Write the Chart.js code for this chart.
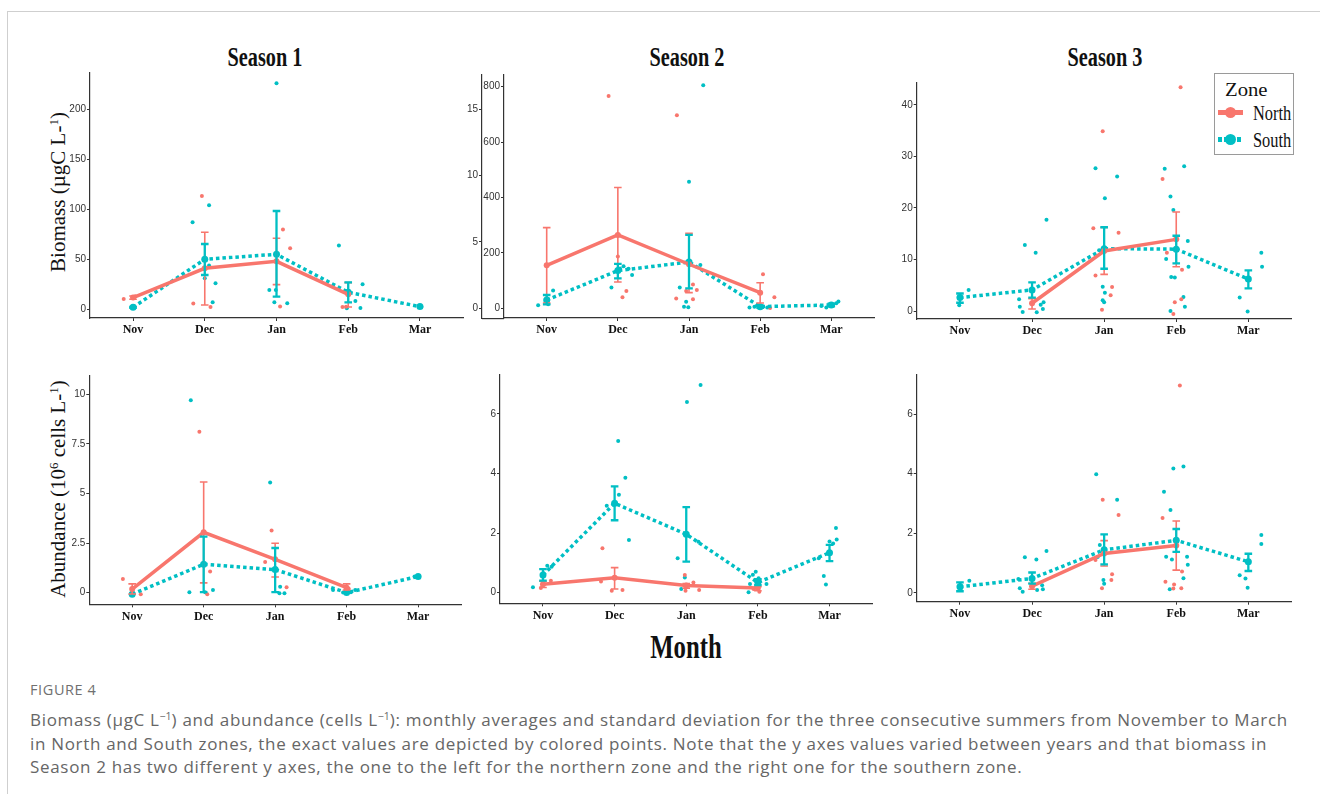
<!DOCTYPE html>
<html><head><meta charset="utf-8">
<script src="https://cdn.jsdelivr.net/npm/chart.js@4.4.1/dist/chart.umd.min.js"></script>
<style>
html,body{margin:0;padding:0;background:#fff;}
#page{position:relative;width:1320px;height:794px;overflow:hidden;background:#fff;}
canvas{position:absolute;}
.t{position:absolute;white-space:nowrap;line-height:1;color:#111;font-family:'Liberation Serif','Times New Roman',serif;}
.title{font-weight:bold;font-size:27px;transform:translateX(-50%) scaleX(0.75);}
.ytitle{font-size:21px;transform:translate(-50%,-50%) rotate(-90deg);}
.ytitle sup{font-size:13px;vertical-align:7px;line-height:0;}
#frameTop{position:absolute;left:7px;top:11px;width:1313px;height:1px;background:#cfcfcf;}
#frameLeft{position:absolute;left:7px;top:11px;width:1px;height:783px;background:#cfcfcf;}
#legend{position:absolute;left:1214px;top:73px;width:78px;height:80px;border:1.5px solid #9a9a9a;background:#fff;}
.cap{position:absolute;font-family:'Open Sans','Noto Sans',sans-serif;color:#666;white-space:nowrap;}
.cap sup{font-size:10.5px;vertical-align:6px;line-height:0;letter-spacing:0;}
</style></head>
<body><div id="page">
<div id="frameTop"></div><div id="frameLeft"></div>
<div class="t title" style="left:265px;top:44px;">Season 1</div>
<div class="t title" style="left:687px;top:44px;">Season 2</div>
<div class="t title" style="left:1105px;top:44px;">Season 3</div>
<div class="t ytitle" style="left:58px;top:192px;">Biomass (µgC L-<sup>1</sup>)</div>
<div class="t ytitle" style="left:58px;top:489px;">Abundance (10<sup>6</sup> cells L-<sup>1</sup>)</div>
<div class="t title" style="left:686px;top:631px;font-size:33px;">Month</div>
<div class="cap" style="left:30px;top:682px;font-size:14.5px;line-height:16px;letter-spacing:0.6px;color:#707070;">FIGURE 4</div>
<div class="cap" style="left:30px;top:708px;font-size:17px;line-height:23.7px;letter-spacing:0.68px;">Biomass (µgC L<sup>−1</sup>) and abundance (cells L<sup>−1</sup>): monthly averages and standard deviation for the three consecutive summers from November to March<br>in North and South zones, the exact values are depicted by colored points. Note that the y axes values varied between years and that biomass in<br>Season 2 has two different y axes, the one to the left for the northern zone and the right one for the southern zone.</div>
<div id="legend">
  <div class="t" style="left:10px;top:7px;font-size:18px;transform-origin:left;transform:scaleX(1.15);">Zone</div>
  <div style="position:absolute;left:3px;top:36px;width:25px;height:5px;background:#F8766D;"></div>
  <div style="position:absolute;left:10px;top:33px;width:11px;height:11px;border-radius:50%;background:#F8766D;"></div>
  <div class="t" style="left:38px;top:29px;font-size:21px;transform-origin:left;transform:scaleX(0.78);">North</div>
  <div style="position:absolute;left:3px;top:63px;width:25px;height:4.5px;background:repeating-linear-gradient(90deg,#00BFC4 0 4px,transparent 4px 6.5px);"></div>
  <div style="position:absolute;left:10px;top:60px;width:11px;height:11px;border-radius:50%;background:#00BFC4;"></div>
  <div class="t" style="left:38px;top:56px;font-size:21px;transform-origin:left;transform:scaleX(0.78);">South</div>
</div>
</div>
<script>
// ---------- DATA ----------
const months = ['Nov', 'Dec', 'Jan', 'Feb', 'Mar'];

// Season 1 biomass (µgC/L)
const s1BioTicks = [0, 50, 100, 150, 200];
const s1BioNorthMean = [11.7, 41, 48, 15, null];
const s1BioNorthLo = [10, 4.3, 24.7, 2.3, null];
const s1BioNorthHi = [13.3, 77, 71, 26.7, null];
const s1BioNorthRaw = [[0,-0.13,10.3],[0,0.03,13],[1,-0.04,113.3],[1,-0.16,5.7],[1,0.08,2.3],[2,0.09,79.7],[2,0.19,61],[2,0.05,2.7],[3,-0.08,2.3],[3,-0.03,2.6]];
const s1BioSouthMean = [2, 50, 55, 17, 2.7];
const s1BioSouthLo = [1.5, 34.3, 12.7, 7, null];
const s1BioSouthHi = [2.5, 65.3, 98.3, 27, null];
const s1BioSouthRaw = [[0,-0.02,2],[0,0.01,1.5],[1,-0.17,87],[1,0.06,104],[1,0.15,26],[1,0.11,7],[1,0.06,43.7],[1,0,31],[2,0,226],[2,-0.1,19.3],[2,-0.01,19.3],[2,-0.03,7],[2,0.15,6],[3,-0.13,63.7],[3,0.2,25],[3,0.1,8.3],[3,0.17,1.3],[3,-0.02,1],[4,0,2.7],[4,0.02,2.2]];

// Season 2 biomass: north on left axis, south on right axis
const s2BioNorthTicks = [0, 5, 10, 15];
const s2BioSouthTicks = [0, 200, 400, 600, 800];
const s2BioNorthMean = [3.24, 5.53, 3.32, 1.18, null];
const s2BioNorthLo = [0.4, 1.98, 1.18, 0.4, null];
const s2BioNorthHi = [6.08, 9.1, 5.65, 1.93, null];
const s2BioNorthRaw = [[0,0.01,0.45],[1,-0.13,16.0],[1,0.065,0.83],[1,0.12,1.3],[1,0,3.9],[2,-0.17,14.55],[2,-0.18,0.73],[2,0.056,0.68],[2,0.11,1.38],[2,0.056,1.8],[2,-0.04,1.3],[3,0.04,2.56],[3,0.2,0.83],[3,0.14,0.03]];
const s2BioSouthMean = [30, 136, 167, 6, 12];
const s2BioSouthLo = [14.4, 108, 72, 2, 7];
const s2BioSouthHi = [48, 160, 265, 10, 17];
const s2BioSouthRaw = [[0,-0.12,11],[0,0.09,64],[0,0.02,15],[1,-0.09,75],[1,0.2,120],[1,0.15,143],[1,0.03,144],[1,0.08,152],[2,0.2,805],[2,0,457],[2,0.16,156],[2,-0.13,75],[2,-0.04,24],[2,-0.07,6],[2,-0.01,4],[3,-0.15,3],[3,-0.08,6],[3,-0.04,10],[3,0.03,6],[3,0.1,3],[3,0.12,4],[4,-0.14,8],[4,-0.07,3],[4,-0.02,14],[4,0.02,12],[4,0.07,18],[4,0.1,25]];

// Season 3 biomass
const s3BioTicks = [0, 10, 20, 30, 40];
const s3BioNorthMean = [null, 1.5, 11.65, 13.9, null];
const s3BioNorthLo = [null, 0.4, 7.1, 8.6, null];
const s3BioNorthHi = [null, 2.4, 16.2, 19.2, null];
const s3BioNorthRaw = [[1,0,1.5],[2,-0.02,34.9],[2,-0.15,16.05],[2,0.2,15.2],[2,-0.12,6.9],[2,0.11,4.66],[2,0.09,3.04],[2,-0.03,0.26],[3,0.06,43.4],[3,-0.19,25.6],[3,-0.13,11.3],[3,0.08,8.0],[3,-0.02,1.7],[3,0.07,2.3],[3,-0.04,-0.6]];
const s3BioSouthMean = [2.6, 4.1, 12.1, 12.0, 6.2];
const s3BioSouthLo = [1.6, 2.6, 8.2, 9.25, 4.4];
const s3BioSouthHi = [3.4, 5.57, 16.25, 14.6, 7.9];
const s3BioSouthRaw = [[0,-0.01,1.1],[0,0.12,4.1],[0,0,2.6],[1,-0.1,12.8],[1,0.05,11.3],[1,0.2,17.7],[1,-0.18,2.3],[1,-0.17,0.84],[1,-0.13,-0.2],[1,0.065,-0.26],[1,0.12,1.2],[1,0.16,1.7],[1,0.15,0.4],[2,-0.12,27.7],[2,0.18,26.1],[2,0.01,21.9],[2,-0.07,11.8],[2,-0.02,4.7],[2,0.01,3.56],[2,-0.02,2.1],[2,0,1.7],[3,-0.16,27.6],[3,0.11,28.1],[3,-0.08,22.2],[3,-0.04,19.6],[3,-0.14,10.1],[3,0.16,13.6],[3,0.17,8.6],[3,-0.07,6.6],[3,-0.02,6.5],[3,0.1,2.7],[3,0.12,0.84],[3,-0.08,0],[4,0.18,11.3],[4,0.19,8.6],[4,-0.12,2.6],[4,-0.01,-0.1]];

// Season 1 abundance (10^6 cells/L)
const s1AbuTicks = [0, 2.5, 5, 7.5, 10];
const s1AbuNorthMean = [0.18, 3.04, 1.68, 0.25, null];
const s1AbuNorthLo = [-0.07, 0.49, 0.79, 0.13, null];
const s1AbuNorthHi = [0.44, 5.58, 2.49, 0.44, null];
const s1AbuNorthRaw = [[0,-0.13,0.69],[0,0.12,-0.08],[1,-0.06,8.12],[1,0.09,1.06],[1,0.05,-0.08],[2,-0.05,3.14],[2,-0.14,1.55],[2,0.16,0.27],[3,-0.02,0.3],[3,0.03,0.2]];
const s1AbuSouthMean = [-0.08, 1.43, 1.16, 0.0, 0.81];
const s1AbuSouthLo = [null, 0.02, 0.02, null, null];
const s1AbuSouthHi = [null, 2.82, 2.25, null, null];
const s1AbuSouthRaw = [[0,-0.01,-0.08],[1,-0.18,9.71],[1,-0.2,0.02],[1,0.02,0.02],[1,0.13,0.13],[2,-0.07,5.55],[2,0.07,0.3],[2,0.06,-0.03],[2,0.13,-0.03],[3,-0.19,0.13],[3,-0.05,0.0],[3,0.12,0.13],[3,0.06,0.02],[4,-0.05,0.81]];

// Season 2 abundance
const s2AbuTicks = [0, 2, 4, 6];
const s2AbuNorthMean = [0.28, 0.5, 0.24, 0.15, null];
const s2AbuNorthLo = [0.17, 0.12, 0.15, 0.06, null];
const s2AbuNorthHi = [0.38, 0.84, 0.3, 0.2, null];
const s2AbuNorthRaw = [[0,0.11,0.4],[0,-0.03,0.15],[1,-0.17,1.49],[1,-0.19,0.37],[1,-0.04,0.06],[1,0.11,0.09],[2,-0.02,0.59],[2,0.1,0.34],[2,0.18,0.09],[2,-0.01,0.06],[3,0.02,0.03],[3,-0.06,0.12]];
const s2AbuSouthMean = [0.59, 3.0, 1.96, 0.34, 1.34];
const s2AbuSouthLo = [0.4, 2.43, 1.04, 0.25, 1.06];
const s2AbuSouthHi = [0.79, 3.57, 2.87, 0.45, 1.6];
const s2AbuSouthRaw = [[0,-0.14,0.18],[0,0.06,0.9],[0,0.12,0.87],[1,0.05,5.09],[1,0.15,3.86],[1,0.06,3.29],[1,-0.11,2.92],[1,0.2,1.77],[2,0.2,6.97],[2,0.01,6.4],[2,-0.12,1.15],[2,-0.02,0.51],[2,-0.07,0.12],[2,0.17,1.71],[3,-0.13,0.01],[3,-0.03,0.7],[3,-0.07,0.6],[3,0.12,0.29],[3,-0.11,0.29],[3,0.01,0.48],[4,0.09,2.17],[4,0.1,1.78],[4,0,1.72],[4,-0.08,0.56],[4,-0.05,0.27],[4,-0.15,1.15],[4,0.05,1.65]];

// Season 3 abundance
const s3AbuTicks = [0, 2, 4, 6];
const s3AbuNorthMean = [null, 0.22, 1.32, 1.59, null];
const s3AbuNorthLo = [null, 0.12, 0.9, 0.76, null];
const s3AbuNorthHi = [null, 0.32, 1.75, 2.41, null];
const s3AbuNorthRaw = [[1,0,0.2],[2,-0.02,3.12],[2,0.2,2.61],[2,0.11,0.62],[2,0.1,0.43],[2,-0.03,0.15],[2,-0.12,1.1],[3,0.05,6.96],[3,-0.19,2.51],[3,-0.15,0.37],[3,-0.03,0.28],[3,0.07,0.15],[3,-0.04,0.14],[3,0.08,0.71]];
const s3AbuSouthMean = [0.2, 0.48, 1.44, 1.76, 1.04];
const s3AbuSouthLo = [0.05, 0.31, 0.95, 1.37, 0.73];
const s3AbuSouthHi = [0.35, 0.68, 1.96, 2.14, 1.31];
const s3AbuSouthRaw = [[0,0.13,0.4],[0,0.01,0.09],[0,0.01,0.25],[1,-0.1,1.19],[1,0.06,1.12],[1,0.2,1.4],[1,-0.17,0.15],[1,-0.13,0.03],[1,0.15,0.12],[1,-0.19,0.46],[1,0.07,0.09],[1,0.14,0.25],[2,-0.11,3.98],[2,0.18,3.12],[2,-0.06,1.6],[2,-0.01,0.43],[2,0,0.3],[2,-0.09,1.2],[3,-0.17,3.39],[3,0.1,4.24],[3,-0.04,4.17],[3,-0.08,2.78],[3,-0.14,1.21],[3,0.15,1.21],[3,0.16,0.94],[3,0.1,0.49],[3,-0.09,0.12],[3,-0.06,1.12],[4,0.18,1.94],[4,0.18,1.64],[4,-0.12,0.59],[4,-0.04,0.48],[4,-0.01,0.17]];

// ---------- STYLE / LAYOUT ----------
const NORTH = '#F8766D', SOUTH = '#00BFC4';
const AXIS = '#333333';
Chart.defaults.font.family = "'Liberation Sans Narrow','Liberation Sans',Arial,sans-serif";

const panels = [
  {left:90, right:463, top:73, bottom:318, yAxes:[{id:'y', min:-8.7, max:236.3, ticks:s1BioTicks, w:40}],
   nAxis:'y', sAxis:'y', nMean:s1BioNorthMean, nLo:s1BioNorthLo, nHi:s1BioNorthHi, nRaw:s1BioNorthRaw,
   sMean:s1BioSouthMean, sLo:s1BioSouthLo, sHi:s1BioSouthHi, sRaw:s1BioSouthRaw},
  {left:504, right:874, top:75, bottom:318, yAxes:[{id:'yS', min:-35, max:842, ticks:s2BioSouthTicks, w:22},{id:'yN', min:-0.73, max:17.58, ticks:s2BioNorthTicks, w:22}],
   nAxis:'yN', sAxis:'yS', nMean:s2BioNorthMean, nLo:s2BioNorthLo, nHi:s2BioNorthHi, nRaw:s2BioNorthRaw,
   sMean:s2BioSouthMean, sLo:s2BioSouthLo, sHi:s2BioSouthHi, sRaw:s2BioSouthRaw},
  {left:916.7, right:1291.6, top:82.7, bottom:319, yAxes:[{id:'y', min:-1.55, max:44.3, ticks:s3BioTicks, w:30}],
   nAxis:'y', sAxis:'y', nMean:s3BioNorthMean, nLo:s3BioNorthLo, nHi:s3BioNorthHi, nRaw:s3BioNorthRaw,
   sMean:s3BioSouthMean, sLo:s3BioSouthLo, sHi:s3BioSouthHi, sRaw:s3BioSouthRaw},
  {left:89.3, right:461, top:376, bottom:604.3, yAxes:[{id:'y', min:-0.59, max:10.93, ticks:s1AbuTicks, w:40}],
   nAxis:'y', sAxis:'y', nMean:s1AbuNorthMean, nLo:s1AbuNorthLo, nHi:s1AbuNorthHi, nRaw:s1AbuNorthRaw,
   sMean:s1AbuSouthMean, sLo:s1AbuSouthLo, sHi:s1AbuSouthHi, sRaw:s1AbuSouthRaw},
  {left:500, right:872.5, top:375, bottom:603.3, yAxes:[{id:'y', min:-0.36, max:7.31, ticks:s2AbuTicks, w:30}],
   nAxis:'y', sAxis:'y', nMean:s2AbuNorthMean, nLo:s2AbuNorthLo, nHi:s2AbuNorthHi, nRaw:s2AbuNorthRaw,
   sMean:s2AbuSouthMean, sLo:s2AbuSouthLo, sHi:s2AbuSouthHi, sRaw:s2AbuSouthRaw},
  {left:916.7, right:1291.6, top:375, bottom:601.7, yAxes:[{id:'y', min:-0.30, max:7.31, ticks:s3AbuTicks, w:30}],
   nAxis:'y', sAxis:'y', nMean:s3AbuNorthMean, nLo:s3AbuNorthLo, nHi:s3AbuNorthHi, nRaw:s3AbuNorthRaw,
   sMean:s3AbuSouthMean, sLo:s3AbuSouthLo, sHi:s3AbuSouthHi, sRaw:s3AbuSouthRaw}
];

// error bars + x-axis extension drawn through the chart's own scales
const errorBarPlugin = {
  id: 'errorBars',
  afterDatasetsDraw(chart) {
    const ctx = chart.ctx;
    const xs = chart.scales.x;
    chart.data.datasets.forEach(ds => {
      if (!ds.errLo) return;
      const ys = chart.scales[ds.yAxisID];
      ctx.save();
      ctx.strokeStyle = ds.borderColor;
      ctx.lineWidth = ds.errWidth;
      ctx.setLineDash([]);
      ctx.lineCap = 'butt';
      ds.errLo.forEach((lo, i) => {
        const hi = ds.errHi[i];
        if (lo == null || hi == null) return;
        const x = xs.getPixelForValue(i + 1);
        const y1 = ys.getPixelForValue(lo), y2 = ys.getPixelForValue(hi);
        const c = 3.8;
        ctx.beginPath();
        ctx.moveTo(x, y1); ctx.lineTo(x, y2);
        ctx.moveTo(x - c, y1); ctx.lineTo(x + c, y1);
        ctx.moveTo(x - c, y2); ctx.lineTo(x + c, y2);
        ctx.stroke();
      });
      ctx.restore();
    });
    if (chart.scales.yN) {
      const a = chart.chartArea;
      ctx.save();
      ctx.strokeStyle = AXIS; ctx.lineWidth = 1.2;
      ctx.beginPath();
      ctx.moveTo(chart.scales.yN.right, a.bottom + 0.6);
      ctx.lineTo(a.left, a.bottom + 0.6);
      ctx.stroke();
      ctx.restore();
    }
  }
};

function meanPoints(arr) {
  const out = [];
  arr.forEach((v, i) => { if (v != null) out.push({x: i + 1, y: v}); });
  return out;
}
function rawPoints(arr) {
  return arr.map(([m, j, v]) => ({x: m + 1 + j, y: v}));
}

const page = document.getElementById('page');
panels.forEach(p => {
  const padT = 8, padR = 6, xAxisH = 28;
  const ySum = p.yAxes.reduce((s, a) => s + a.w, 0);
  const cl = Math.floor(p.left - ySum);
  const ct = Math.floor(p.top - padT);
  const cw = Math.ceil(p.right + padR - cl);
  const ch = Math.ceil(p.bottom + xAxisH - ct);
  const extra = (p.left - cl) - ySum;
  const canvas = document.createElement('canvas');
  canvas.width = cw; canvas.height = ch;
  canvas.style.left = cl + 'px'; canvas.style.top = ct + 'px';
  canvas.style.width = cw + 'px'; canvas.style.height = ch + 'px';
  page.appendChild(canvas);

  const scales = {
    x: {
      type: 'linear', min: 0.4, max: 5.6, bounds: 'data',
      afterBuildTicks: s => { s.ticks = months.map((m, i) => ({value: i + 1})); },
      afterFit: s => { s.height = ch - (p.bottom - ct); },
      ticks: {
        autoSkip: false, maxRotation: 0, padding: 2, color: '#111',
        font: {family: "'Liberation Serif','Times New Roman',serif", size: 12, weight: 'bold'},
        callback: v => months[Math.round(v) - 1] || ''
      },
      grid: {display: true, drawOnChartArea: false, drawTicks: true, tickLength: 3, color: AXIS, lineWidth: 1},
      border: {display: true, color: AXIS, width: 1.2}
    }
  };
  p.yAxes.forEach((a, k) => {
    const w = a.w + (k === p.yAxes.length - 1 ? extra : 0);
    scales[a.id] = {
      type: 'linear', position: 'left', weight: k, min: a.min, max: a.max, bounds: 'data',
      afterBuildTicks: s => { s.ticks = a.ticks.map(v => ({value: v})); },
      afterFit: s => { s.width = w; },
      ticks: {padding: 1, color: '#333', font: {size: 10}, callback: v => String(v)},
      grid: {display: true, drawOnChartArea: false, drawTicks: true, tickLength: 3, color: AXIS, lineWidth: 1},
      border: {display: true, color: AXIS, width: 1.2}
    };
  });

  const datasets = [
    {type: 'line', label: 'North', data: meanPoints(p.nMean), yAxisID: p.nAxis, borderColor: NORTH, backgroundColor: NORTH,
     borderWidth: 3.5, pointRadius: 3, pointHoverRadius: 3, pointBorderWidth: 0, fill: false, tension: 0, order: 1,
     errLo: p.nLo, errHi: p.nHi, errWidth: 1.6, clip: false},
    {type: 'line', label: 'South', data: meanPoints(p.sMean), yAxisID: p.sAxis, borderColor: SOUTH, backgroundColor: SOUTH,
     borderWidth: 3.5, borderDash: [3.5, 3], borderCapStyle: 'butt', pointRadius: 3.5, pointHoverRadius: 3.5, pointBorderWidth: 0,
     fill: false, tension: 0, order: 2, errLo: p.sLo, errHi: p.sHi, errWidth: 2.3, clip: false},
    {type: 'scatter', label: 'North raw', data: rawPoints(p.nRaw), yAxisID: p.nAxis, backgroundColor: NORTH, borderWidth: 0,
     pointRadius: 2, showLine: false, order: 3, clip: false},
    {type: 'scatter', label: 'South raw', data: rawPoints(p.sRaw), yAxisID: p.sAxis, backgroundColor: SOUTH, borderWidth: 0,
     pointRadius: 2, showLine: false, order: 4, clip: false}
  ];

  new Chart(canvas, {
    type: 'line',
    data: {datasets},
    options: {
      responsive: false, animation: false, devicePixelRatio: 1,
      layout: {padding: {top: p.top - ct, right: cw - (p.right - cl), left: 0, bottom: 0}},
      plugins: {legend: {display: false}, tooltip: {enabled: false}},
      scales
    },
    plugins: [errorBarPlugin]
  });
});
</script>
</body></html>
